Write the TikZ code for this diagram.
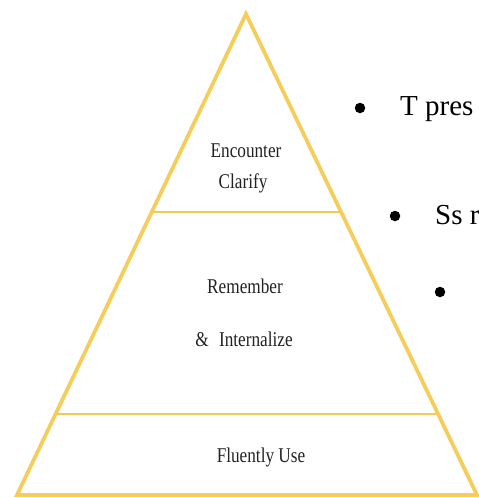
\documentclass[tikz,border=0pt]{standalone}
\usepackage{fontspec}
\setmainfont{Liberation Serif}
\usetikzlibrary{calc}
\definecolor{gold}{HTML}{F5CD5B}
\definecolor{ink}{HTML}{222222}
\tikzset{
  edge/.style={draw=gold, line width=3.8pt, line join=miter},
  tier/.style={draw=gold!95!orange, line width=2.8pt},
  lbl/.style={text=ink, inner sep=0pt, anchor=base, font=\fontsize{21}{23}\selectfont},
  bul/.style={circle, fill=black, inner sep=0pt, minimum size=10.5pt},
  btxt/.style={text=black, inner sep=0pt, anchor=base west, font=\fontsize{29}{32}\selectfont},
}
\newcommand{\sq}[1]{\scalebox{0.82}[1]{#1}}
\begin{document}
\begin{tikzpicture}[x=1pt, y=-1pt]
\useasboundingbox (0,0) rectangle (479,498);
\clip (0,0) rectangle (479,498);
\coordinate (apex) at (246,14);
\coordinate (bl) at (17,495);
\coordinate (br) at (477,495);
\draw[edge] (apex) -- (bl) -- (br) -- cycle;
\coordinate (l1) at ($(apex)!0.4116!(bl)$);
\coordinate (r1) at ($(apex)!0.4116!(br)$);
\coordinate (l2) at ($(apex)!0.8316!(bl)$);
\coordinate (r2) at ($(apex)!0.8316!(br)$);
\draw[tier] (l1) -- (r1);
\draw[tier] (l2) -- (r2);
\node[lbl] (enc) at (246,157) {\sq{Encounter}};
\node[lbl] (cla) at (243,188) {\sq{Clarify}};
\node[lbl] (rem) at (245,293) {\sq{Remember}};
\node[lbl] (int) at (244,346) {\sq{\&\hspace{0.6em}Internalize}};
\node[lbl] (flu) at (261,462) {\sq{Fluently Use}};
\node[bul] (b1) at (360,108) {};
\node[btxt] (t1) at (400,115) {T pres};
\node[bul] (b2) at (395,216) {};
\node[btxt] (t2) at (435,224) {Ss r};
\node[bul] (b3) at (440,292) {};
\end{tikzpicture}
\end{document}
